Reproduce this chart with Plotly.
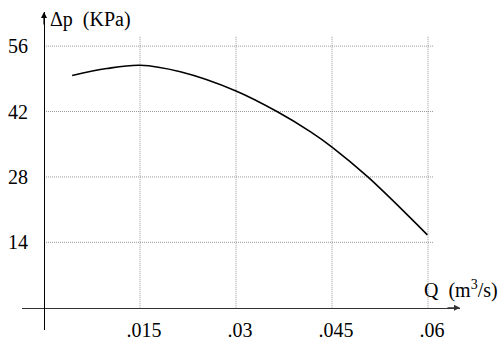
import plotly.graph_objects as go

# Data
q_vals = [0.0044, 0.0098, 0.0150, 0.0213, 0.0300, 0.0364, 0.0416, 0.0450, 0.0506, 0.0599]
dp_vals = [49.7, 51.2, 51.9, 50.5, 46.4, 42.0, 37.7, 34.4, 28.0, 15.6]

x_ticks = [0.015, 0.03, 0.045, 0.06]
x_tick_labels = [".015", ".03", ".045", ".06"]
y_ticks = [14, 28, 42, 56]
y_tick_labels = ["14", "28", "42", "56"]

W, H = 499, 341
FONT = "Liberation Serif"
FS = 20

x_dom = [22 / W, 460 / W]
x_rng = [-22 / 6400, 416 / 6400]
y_dom = [(H - 333) / H, (H - 12) / H]
y_rng = [(310.5 - 333) / 4.714, (310.5 - 12) / 4.714]

fig = go.Figure()

grid_x_end = 0.0608
grid_y_end = 58.2
for xv in x_ticks:
    fig.add_shape(type="line", x0=xv, x1=xv, y0=0, y1=grid_y_end, xref="x", yref="y",
                  line=dict(color="#999999", width=1, dash="1px,1px"), layer="below")
for yv in y_ticks:
    fig.add_shape(type="line", x0=0, x1=grid_x_end, y0=yv, y1=yv, xref="x", yref="y",
                  line=dict(color="#999999", width=1, dash="1px,1px"), layer="below")

fig.add_trace(go.Scatter(x=q_vals, y=dp_vals, mode="lines",
                         line=dict(color="black", width=1.6, shape="spline"),
                         showlegend=False, hoverinfo="skip"))

fig.update_layout(
    width=W, height=H, margin=dict(l=0, r=0, t=0, b=0),
    paper_bgcolor="white", plot_bgcolor="white",
    font=dict(family=FONT, size=FS, color="black"),
    xaxis=dict(domain=x_dom, range=x_rng, anchor="free", position=(H - 310.5) / H,
               showgrid=False, zeroline=False, showline=True, linecolor="#333333", linewidth=1.2,
               tickmode="array", tickvals=x_ticks, ticktext=x_tick_labels, ticks="",
               ticklabelshift=4, ticklabelstandoff=4, tickfont=dict(family=FONT, size=FS)),
    yaxis=dict(domain=y_dom, range=y_rng, anchor="free", position=44 / W,
               showgrid=False, zeroline=False, showline=True, linecolor="black", linewidth=1.2,
               tickmode="array", tickvals=y_ticks, ticktext=y_tick_labels, ticks="",
               ticklabelstandoff=12, tickfont=dict(family=FONT, size=FS)),
)

fig.add_annotation(x=x_rng[1], y=0, xref="x", yref="y", ax=-14, ay=0, text="", showarrow=True,
                   arrowhead=2, arrowsize=1, arrowwidth=1.2, arrowcolor="#333333")
fig.add_annotation(x=0, y=y_rng[1], xref="x", yref="y", ax=0, ay=14, text="", showarrow=True,
                   arrowhead=2, arrowsize=1, arrowwidth=1.2, arrowcolor="black")

fig.add_annotation(x=48 / W, y=(H - 20) / H, xref="paper", yref="paper", xanchor="left", yanchor="middle",
                   text="Δp  (KPa)", showarrow=False, font=dict(family=FONT, size=FS))
fig.add_annotation(x=500 / W, y=(H - 292) / H, xref="paper", yref="paper", xanchor="right", yanchor="middle",
                   text="Q  (m<sup>3</sup>/s)", showarrow=False, font=dict(family=FONT, size=FS))

fig.write_html("out.html")
